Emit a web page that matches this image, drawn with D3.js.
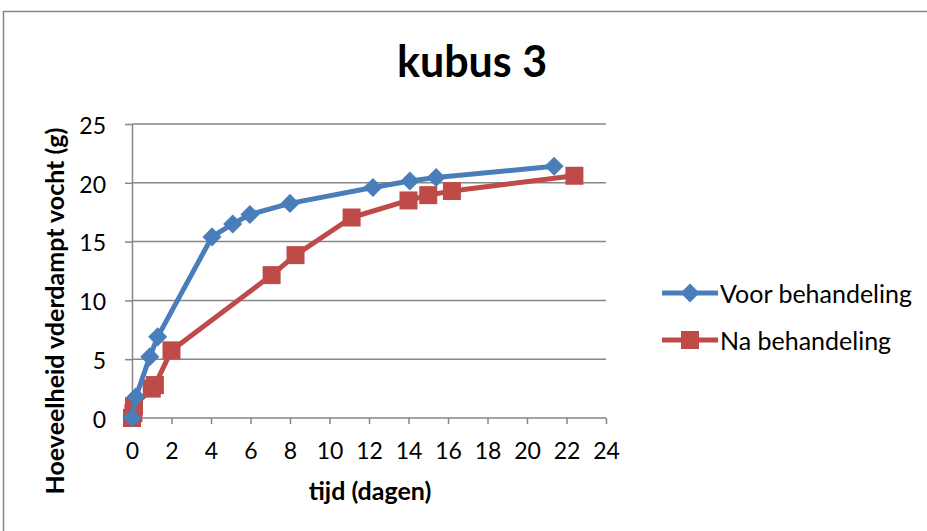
<!DOCTYPE html>
<html><head><meta charset="utf-8">
<script src="https://cdn.jsdelivr.net/npm/d3@7"></script>
<style>body{margin:0;background:#fff}svg{display:block}</style>
</head><body>
<svg id="c" width="927" height="531"></svg>
<script>
const title = "kubus 3";
const xLabel = "tijd (dagen)";
const yLabel = "Hoeveelheid vderdampt vocht (g)";
const xTicks = [0,2,4,6,8,10,12,14,16,18,20,22,24];
const yTicks = [0,5,10,15,20,25];
const voorX = [0, 0.2, 0.9, 1.3, 4.05, 5.1, 5.97, 8.0, 12.2, 14.07, 15.4, 21.37];
const voorY = [0, 1.8, 5.2, 6.9, 15.4, 16.5, 17.3, 18.25, 19.6, 20.15, 20.45, 21.4];
const naX = [0, 0.07, 0.1, 1.0, 1.16, 2.0, 7.07, 8.28, 11.12, 14.0, 15.0, 16.2, 22.4];
const naY = [0, 0.4, 1.0, 2.5, 2.8, 5.75, 12.15, 13.85, 17.05, 18.5, 18.95, 19.3, 20.6];
const seriesNames = ["Voor behandeling", "Na behandeling"];
const colors = ["#4a7ebb", "#be4b48"];

const svg = d3.select("#c");
const font = "Lato, 'Noto Sans', sans-serif";
svg.append("rect").attr("x",3.5).attr("y",11.5).attr("width",940).attr("height",530)
  .attr("fill","#fff").attr("stroke","#868686").attr("stroke-width",1.5);

const x = d3.scaleLinear().domain([0,24]).range([132,606]);
const y = d3.scaleLinear().domain([0,25]).range([418,124]);

svg.append("g").selectAll("line").data(yTicks.filter(d=>d>0)).join("line")
  .attr("x1",x(0)).attr("x2",x(24)).attr("y1",d=>y(d)).attr("y2",d=>y(d))
  .attr("stroke","#868686").attr("stroke-width",1.5);

const gx = svg.append("g").attr("transform",`translate(0,${y(0)})`)
  .call(d3.axisBottom(x).tickValues(xTicks).tickSize(6).tickSizeOuter(0).tickPadding(19));
const gy = svg.append("g").attr("transform",`translate(${x(0)},0)`)
  .call(d3.axisLeft(y).tickValues(yTicks).tickSize(7).tickSizeOuter(0).tickPadding(19));
[gx,gy].forEach(g=>{
  g.selectAll("path,line").attr("stroke","#868686").attr("stroke-width",1.5);
  g.selectAll("text").attr("font-family",font).attr("font-size",23).attr("fill","#000");
});
gy.selectAll("text").attr("dy","0.4em");
gx.select(".domain").remove();
gx.append("line").attr("x1",x(0)-8).attr("x2",x(24)).attr("stroke","#868686").attr("stroke-width",1.5);

const diamond = {draw(ctx,size){const r=Math.sqrt(size)/2*1.1;ctx.moveTo(0,-r);ctx.lineTo(r,0);ctx.lineTo(0,r);ctx.lineTo(-r,0);ctx.closePath();}};
const series = [
  {name:seriesNames[0], color:colors[0], pts:voorX.map((v,i)=>[v,voorY[i]]), sym:diamond, size:300},
  {name:seriesNames[1], color:colors[1], pts:naX.map((v,i)=>[v,naY[i]]), sym:d3.symbolSquare, size:324}
];
const line = d3.line().x(d=>x(d[0])).y(d=>y(d[1]));
series.slice().reverse().forEach(s=>{
  svg.append("path").attr("d",line(s.pts)).attr("fill","none").attr("stroke",s.color)
    .attr("stroke-width",5).attr("stroke-linejoin","round");
  svg.append("g").selectAll("path").data(s.pts).join("path")
    .attr("transform",d=>`translate(${x(d[0])},${y(d[1])})`)
    .attr("d",d3.symbol().type(s.sym).size(s.size)).attr("fill",s.color);
});

svg.append("text").attr("x",472).attr("y",77).attr("text-anchor","middle")
  .attr("font-family",font).attr("font-weight","bold").attr("font-size",43).text(title);
svg.append("text").attr("x",370).attr("y",500).attr("text-anchor","middle")
  .attr("font-family",font).attr("font-weight","bold").attr("font-size",25).text(xLabel);
svg.append("text").attr("transform","translate(64,311) rotate(-90)").attr("text-anchor","middle")
  .attr("font-family",font).attr("font-weight","bold").attr("font-size",25).text(yLabel);

series.forEach((s,i)=>{
  const ly = 293 + i*47;
  svg.append("line").attr("x1",662).attr("x2",718).attr("y1",ly).attr("y2",ly)
    .attr("stroke",s.color).attr("stroke-width",5);
  svg.append("path").attr("transform",`translate(690,${ly})`)
    .attr("d",d3.symbol().type(s.sym).size(s.size)).attr("fill",s.color);
  svg.append("text").attr("x",720).attr("y",ly+10).attr("font-family",font)
    .attr("font-size",25).text(s.name);
});
</script>
</body></html>
